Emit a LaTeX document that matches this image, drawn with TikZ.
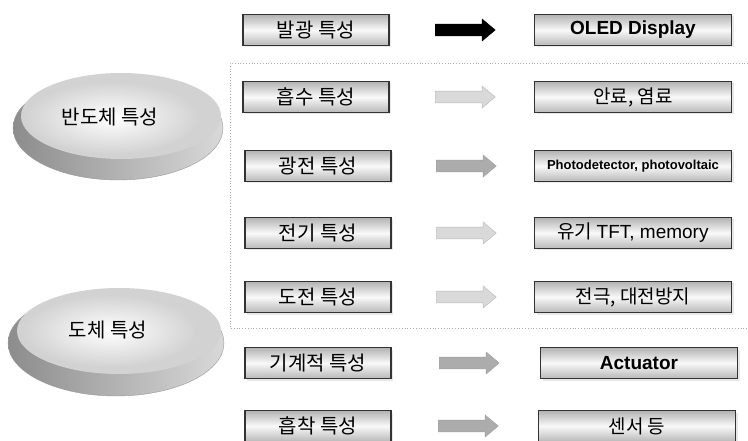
\documentclass[tikz,border=0pt]{standalone}
\usepackage{fontspec}
\setmainfont{Liberation Sans}
\newfontfamily\kr{Noto Sans CJK KR}
\usetikzlibrary{shapes.arrows,shadows,calc}

\colorlet{lightarrow}{gray!30}
\colorlet{darkarrow}{gray!65}

\tikzset{
  x=1pt, y=-1pt,
  % property boxes on the left and application boxes on the right
  propbox/.style={draw=black!80, line width=1.1pt, minimum width=146pt,
    minimum height=31pt, inner sep=0pt, top color=gray!60, bottom color=gray!55,
    middle color=gray!5, drop shadow={shadow xshift=2pt, shadow yshift=-2pt, fill=gray!35},
    font=\kr\fontsize{20}{20}\selectfont},
  appbox/.style={propbox, minimum width=197pt},
  engl/.style={font=\bfseries\fontsize{19}{19}\selectfont},
  small/.style={font=\bfseries\fontsize{13}{13}\selectfont},
  korapp/.style={font=\kr\fontsize{19}{19}\selectfont},
  % block arrows between the two columns
  blockarrow/.style={single arrow, minimum height=60pt, minimum width=22pt,
    single arrow head extend=5pt, single arrow tip angle=80, inner sep=5.5pt},
  blackarrow/.style={blockarrow, fill=black, draw=black},
  palearrow/.style={blockarrow, fill=lightarrow, draw=gray!55},
  greyarrow/.style={blockarrow, fill=darkarrow, draw=gray!75},
  disclabel/.style={font=\kr\fontsize{20}{20}\selectfont},
  frame/.style={gray!65, dotted, line width=0.8pt}
}

\begin{document}
\begin{tikzpicture}
\useasboundingbox (0,0) rectangle (748,441);
\fill[white] (0,0) rectangle (748,441);

% dotted frame around the semiconductor group
\draw[frame] (748,63) -- (230,63) -- (230,328) -- (748,328);

% semiconductor disc
\shade[left color=gray!90, right color=gray!30, draw=gray!80] (118,128) ellipse [x radius=105, y radius=52];
\fill[gray!35] (121,116) ellipse [x radius=100, y radius=43];
\shade[inner color=white, outer color=gray!35] (112,118) ellipse [x radius=86, y radius=36];
\node[disclabel] (semi) at (110,117) {반도체 특성};

% conductor disc
\shade[left color=gray!90, right color=gray!30, draw=gray!80] (116,343) ellipse [x radius=108, y radius=53];
\fill[gray!35] (119,331) ellipse [x radius=102, y radius=43];
\shade[inner color=white, outer color=gray!35] (110,331) ellipse [x radius=86, y radius=36];
\node[disclabel] (cond) at (108,330) {도체 특성};

% property column
\node[propbox] (p1) at (316,30)  {발광 특성};
\node[propbox] (p2) at (316,97)  {흡수 특성};
\node[propbox] (p3) at (318,166) {광전 특성};
\node[propbox] (p4) at (318,233) {전기 특성};
\node[propbox] (p5) at (318,297) {도전 특성};
\node[propbox] (p6) at (318,363) {기계적 특성};
\node[propbox] (p7) at (318,426) {흡착 특성};

% application column
\node[appbox, engl]   (a1) at (633,30)  {OLED Display};
\node[appbox, korapp] (a2) at (633,97)  {안료, 염료};
\node[appbox, small]  (a3) at (633,166) {Photodetector, photovoltaic};
\node[appbox, korapp] (a4) at (633,233) {유기 \fontspec{Liberation Sans}TFT, memory};
\node[appbox, korapp] (a5) at (633,297) {전극, 대전방지};
\node[appbox, engl]   (a6) at (639,363) {Actuator};
\node[appbox, korapp] (a7) at (637,426) {센서 등};

% arrows linking each property to its application
\node[blackarrow] (r1) at ($(p1.east)!0.5!(a1.west)$) {};
\node[palearrow]  (r2) at ($(p2.east)!0.5!(a2.west)$) {};
\node[greyarrow]  (r3) at ($(p3.east)!0.5!(a3.west)$) {};
\node[palearrow]  (r4) at ($(p4.east)!0.5!(a4.west)$) {};
\node[palearrow]  (r5) at ($(p5.east)!0.5!(a5.west)$) {};
\node[greyarrow]  (r6) at ($(p6.east)!0.5!(a6.west)$) {};
\node[greyarrow]  (r7) at ($(p7.east)!0.5!(a7.west)$) {};
\end{tikzpicture}
\end{document}
